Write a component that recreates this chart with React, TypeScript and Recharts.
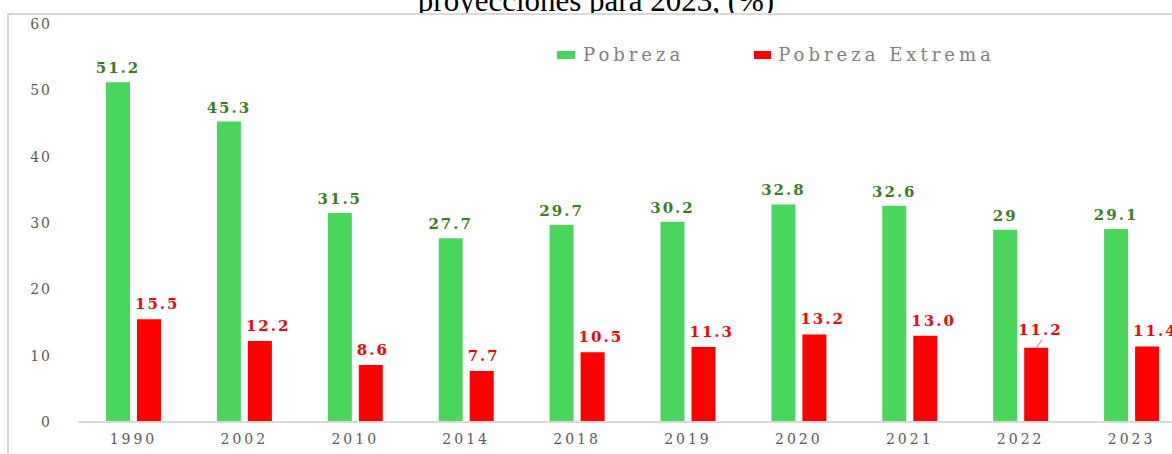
import { BarChart, Bar, XAxis, YAxis, LabelList } from 'recharts';

const years = ['1990', '2002', '2010', '2014', '2018', '2019', '2020', '2021', '2022', '2023'];
const pobreza = [51.2, 45.3, 31.5, 27.7, 29.7, 30.2, 32.8, 32.6, 29, 29.1];
const pobrezaExtrema = [15.5, 12.2, 8.6, 7.7, 10.5, 11.3, 13.2, 13.0, 11.2, 11.4];
const yTicks = [0, 10, 20, 30, 40, 50, 60];
const leaderYears = ['2022'];

const data = years.map((year, i) => ({ year, pobreza: pobreza[i], extrema: pobrezaExtrema[i] }));

const GREEN = '#4AD65C';
const RED = '#FF0000';
const serif = '"Liberation Serif", "Times New Roman", serif';
const wide = '"DejaVu Serif", serif';

const RedLabel = (props: any) => {
  const { x, y, width, value, index } = props;
  const hasLeader = leaderYears.includes(years[index]);
  const lift = hasLeader ? 13 : 10;
  return (
    <g>
      {hasLeader && (
        <line x1={x + width / 2} y1={y} x2={x + width / 2 + 6} y2={y - 8} stroke="#a6a6a6" strokeWidth={1.2} />
      )}
      <text x={hasLeader ? x - 6 : x - 2} y={y - lift} fill={RED} fontFamily={wide} fontWeight="bold" fontSize={15} letterSpacing={2}>
        {Number(value).toFixed(1)}
      </text>
    </g>
  );
};

const ChartLegend = () => (
  <div style={{ position: 'absolute', left: 557, top: 44, display: 'flex', alignItems: 'center', fontFamily: wide, fontSize: 18, letterSpacing: 4, color: '#7f7f7f', whiteSpace: 'nowrap' }}>
    <span style={{ width: 18, height: 8, background: GREEN, display: 'inline-block', marginRight: 8 }} />
    <span style={{ marginRight: 70 }}>Pobreza</span>
    <span style={{ width: 17, height: 8, background: RED, display: 'inline-block', marginRight: 7 }} />
    <span>Pobreza Extrema</span>
  </div>
);

export default function App() {
  return (
    <div style={{ position: 'fixed', left: 0, top: 0, width: 1172, height: 454, overflow: 'hidden', background: '#fff' }}>
      <div style={{ position: 'absolute', left: 0, width: 1192, top: -15, textAlign: 'center', fontFamily: serif, fontSize: 31, lineHeight: '31px', color: '#000', whiteSpace: 'nowrap' }}>
        proyecciones para 2023, (%)
      </div>
      <div style={{ position: 'absolute', left: 7, top: 13, width: 1300, height: 500, borderLeft: '2px solid #d9d9d9', borderTop: '2px solid #d9d9d9', background: '#fff' }} />
      <div style={{ position: 'absolute', left: 0, top: 0 }}>
        <BarChart width={1187} height={454} data={data} margin={{ top: 24, right: 0, left: 0, bottom: 10 }} barSize={24} barGap={7}>
          <XAxis dataKey="year" height={22} axisLine={{ stroke: '#d9d9d9', strokeWidth: 2 }} tickLine={false} tickSize={0} tickMargin={12}
            tick={{ fill: '#595959', fontSize: 14, fontFamily: wide, letterSpacing: 3 }} interval={0} />
          <YAxis width={78} domain={[0, 60]} ticks={yTicks} axisLine={false} tickLine={false} tickSize={0} tickMargin={26}
            tick={{ fill: '#595959', fontSize: 14, fontFamily: wide, letterSpacing: 2 }} />
          <Bar dataKey="pobreza" name="Pobreza" fill={GREEN} isAnimationActive={false}>
            <LabelList dataKey="pobreza" position="top" offset={9} fill="#3A7D22" fontFamily={wide} fontWeight="bold" fontSize={15} letterSpacing={2} />
          </Bar>
          <Bar dataKey="extrema" name="Pobreza Extrema" fill={RED} isAnimationActive={false}>
            <LabelList dataKey="extrema" content={<RedLabel />} />
          </Bar>
        </BarChart>
      </div>
      <ChartLegend />
    </div>
  );
}
